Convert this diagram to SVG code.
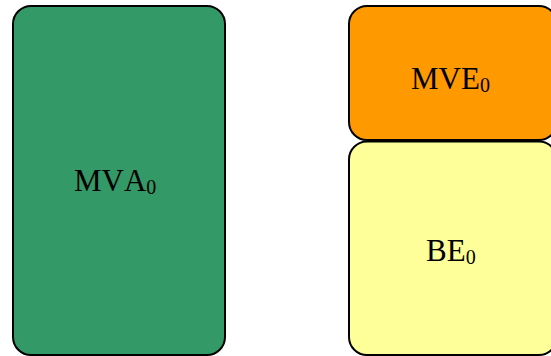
<svg xmlns="http://www.w3.org/2000/svg" width="551" height="356" viewBox="0 0 551 356">
  <style>
    .box { stroke: #000; stroke-width: 2; }
    .lbl { font-family: "Liberation Serif", "Times New Roman", serif; font-size: 31px; fill: #000; font-kerning: none; }
    .sub { font-size: 20px; }
  </style>
  <rect width="551" height="356" fill="#fff"/>
  <g id="mva0">
    <rect class="box" x="13" y="6" width="212" height="349" rx="18" ry="18" fill="#339966"/>
    <text class="lbl" x="74" y="191">MVA<tspan class="sub" dy="3">0</tspan></text>
  </g>
  <g id="be0">
    <rect class="box" x="349" y="141.5" width="208" height="213.5" rx="18" ry="18" fill="#FFFF99"/>
    <text class="lbl" x="426" y="261">BE<tspan class="sub" dy="3">0</tspan></text>
  </g>
  <g id="mve0">
    <rect class="box" x="349" y="6" width="208" height="134" rx="18" ry="18" fill="#FF9900"/>
    <text class="lbl" x="411" y="89">MVE<tspan class="sub" dy="3">0</tspan></text>
  </g>
  <g id="connectors"/>
</svg>
